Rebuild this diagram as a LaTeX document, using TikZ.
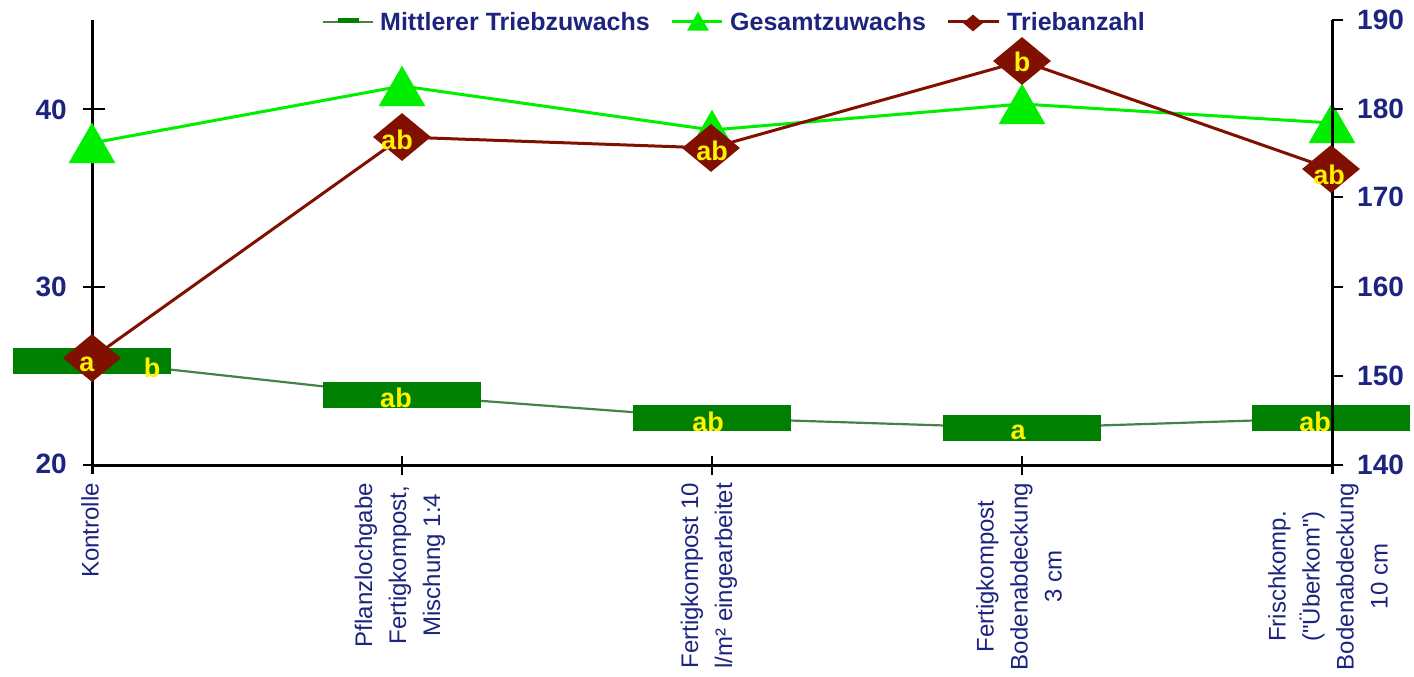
\documentclass[tikz,border=0pt]{standalone}
\usepackage{fontspec}
\setmainfont{Liberation Sans}
\usepackage{tikz}
\usetikzlibrary{shapes.geometric}
\definecolor{axtext}{RGB}{28,36,128}
\definecolor{brgreen}{RGB}{0,238,0}
\definecolor{barg}{RGB}{0,128,0}
\definecolor{mgreen}{RGB}{70,130,70}
\definecolor{maroon}{RGB}{128,16,0}

\begin{document}
\begin{tikzpicture}[x=1pt,y=-1pt,
axis/.style={line width=3pt,black},
tick/.style={line width=2.2pt,black},
num/.style={font=\fontsize{28}{30}\selectfont\bfseries,text=axtext,inner sep=0pt},
cat/.style={font=\fontsize{24}{34}\selectfont,text=axtext,rotate=90,anchor=east,align=center,inner sep=0pt},
leg/.style={font=\fontsize{25}{27}\selectfont\bfseries,text=axtext,anchor=west,inner sep=0pt},
bar/.style={rectangle,fill=barg,minimum width=158pt,minimum height=26pt,inner sep=0pt},
tri/.style={regular polygon,regular polygon sides=3,fill=brgreen,minimum size=54pt,inner sep=0pt,yshift=-6.7pt},
dia/.style={diamond,fill=maroon,minimum width=58pt,minimum height=48pt,inner sep=0pt},
ylab/.style={font=\fontsize{27}{29}\selectfont\bfseries,text=yellow,inner sep=0pt},
mline/.style={line width=2.2pt,mgreen},
gline/.style={line width=3pt,brgreen},
rline/.style={line width=3pt,maroon}]
\useasboundingbox (0,0) rectangle (1414,677);

\draw [axis] (92,20) -- (92,474);
\draw [axis] (92,465) -- (1332,465);
\draw [tick] (83,109) -- (105,109);
\draw [tick] (83,287) -- (105,287);
\draw [tick] (83,465) -- (105,465);
\draw [tick] (402,456) -- (402,475);
\draw [tick] (712,456) -- (712,475);
\draw [tick] (1022,456) -- (1022,475);
\node (l40) [num,anchor=east] at (67,110) {40};
\node (l30) [num,anchor=east] at (67,287) {30};
\node (l20) [num,anchor=east] at (67,464) {20};
\node (r190) [num,anchor=west] at (1357,20) {190};
\node (r180) [num,anchor=west] at (1357,109) {180};
\node (r170) [num,anchor=west] at (1357,197) {170};
\node (r160) [num,anchor=west] at (1357,287) {160};
\node (r150) [num,anchor=west] at (1357,376) {150};
\node (r140) [num,anchor=west] at (1357,465) {140};

\node (c1) [cat] at (90,483) {Kontrolle};
\node (c2) [cat] at (400,483) {Pflanzlochgabe\\Fertigkompost,\\Mischung 1:4};
\node (c3) [cat] at (709,483) {Fertigkompost 10\\l/m² eingearbeitet};
\node (c4) [cat] at (1019,483) {Fertigkompost\\Bodenabdeckung\\3 cm};
\node (c5) [cat] at (1328,483) {Frischkomp.\\(\textquotedbl Überkom\textquotedbl)\\Bodenabdeckung\\10 cm};

\coordinate (k1a) at (323,22);
\coordinate (k1b) at (373,22);
\draw [mline] (k1a) -- (k1b);
\node (k1m) [fill=barg,minimum width=21pt,minimum height=5pt,inner sep=0pt] at (348,21) {};
\node (k1) [leg] at (380,22) {Mittlerer Triebzuwachs};
\coordinate (k2a) at (672,22);
\coordinate (k2b) at (722,22);
\draw [gline] (k2a) -- (k2b);
\node (k2m) [tri,minimum size=25pt,yshift=3.4pt] at (698,21) {};
\node (k2) [leg] at (730,22) {Gesamtzuwachs};
\coordinate (k3a) at (948,22);
\coordinate (k3b) at (999,22);
\draw [rline] (k3a) -- (k3b);
\node (k3m) [dia,minimum width=20pt,minimum height=17pt] at (973,23) {};
\node (k3) [leg] at (1007,22) {Triebanzahl};

\coordinate (m1) at (92,361);
\coordinate (m2) at (402,395);
\coordinate (m3) at (712,418);
\coordinate (m4) at (1022,428);
\coordinate (m5) at (1331,418);
\draw [mline] (m1) -- (m2) -- (m3) -- (m4) -- (m5);
\node (b1) [bar] at (m1) {};
\node (b2) [bar] at (m2) {};
\node (b3) [bar] at (m3) {};
\node (b4) [bar] at (m4) {};
\node (b5) [bar] at (m5) {};
\node (b1t) [ylab] at (152,368) {b};
\node (b2t) [ylab] at (396,398) {ab};
\node (b3t) [ylab] at (708,422) {ab};
\node (b4t) [ylab] at (1018,432) {a};
\node (b5t) [ylab] at (1315,422) {ab};

\coordinate (g1) at (92,143);
\coordinate (g2) at (402,86);
\coordinate (g3) at (712,130);
\coordinate (g4) at (1022,104);
\coordinate (g5) at (1332,123);
\draw [gline] (g1) -- (g2) -- (g3) -- (g4) -- (g5);
\node (g1m) [tri] at (g1) {};
\node (g2m) [tri] at (g2) {};
\node (g3m) [tri] at (g3) {};
\node (g4m) [tri] at (g4) {};
\node (g5m) [tri] at (g5) {};

\draw [axis] (1332,20) -- (1332,474);
\draw [tick] (1332,20) -- (1343,20);
\draw [tick] (1332,109) -- (1343,109);
\draw [tick] (1332,197) -- (1343,197);
\draw [tick] (1332,287) -- (1343,287);
\draw [tick] (1332,376) -- (1343,376);
\draw [tick] (1332,465) -- (1343,465);

\coordinate (r1) at (92,358);
\coordinate (r2) at (402,137);
\coordinate (r3) at (711,148);
\coordinate (r4) at (1022,61);
\coordinate (r5) at (1331,169);
\draw [rline] (r1) -- (r2) -- (r3) -- (r4) -- (r5);
\node (r1m) [dia] at (r1) {};
\node (r2m) [dia] at (r2) {};
\node (r3m) [dia] at (r3) {};
\node (r4m) [dia] at (r4) {};
\node (r5m) [dia] at (r5) {};
\node (r1t) [ylab] at (87,364) {a};
\node (r2t) [ylab] at (397,140) {ab};
\node (r3t) [ylab] at (712,151) {ab};
\node (r4t) [ylab] at (1022,62) {b};
\node (r5t) [ylab] at (1329,175) {ab};
\end{tikzpicture}
\end{document}
